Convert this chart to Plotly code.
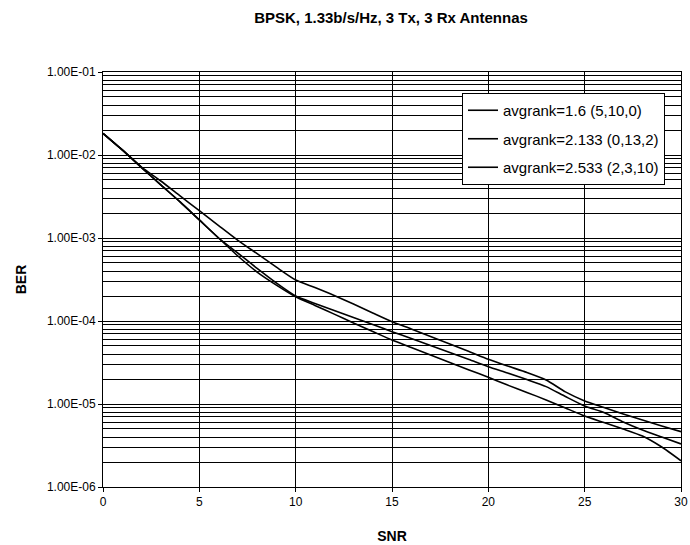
import plotly.graph_objects as go

snr = list(range(0, 31))

ber_16 = [1.82e-2, 1.15e-2, 7.16e-3, 4.86e-3, 3.21e-3, 2.13e-3, 1.41e-3, 9.37e-4, 6.47e-4, 4.45e-4,
          3.12e-4, 2.53e-4, 2.03e-4, 1.60e-4, 1.25e-4, 9.81e-5, 8.02e-5, 6.51e-5, 5.28e-5, 4.29e-5,
          3.46e-5, 2.87e-5, 2.40e-5, 1.95e-5, 1.40e-5, 1.09e-5, 9.08e-6, 7.58e-6, 6.41e-6, 5.43e-6,
          4.64e-6]

ber_2133 = [1.82e-2, 1.15e-2, 7.06e-3, 4.36e-3, 2.72e-3, 1.65e-3, 1.00e-3, 6.59e-4, 4.30e-4, 2.87e-4,
            2.00e-4, 1.63e-4, 1.34e-4, 1.10e-4, 9.08e-5, 7.43e-5, 6.15e-5, 5.07e-5, 4.17e-5, 3.43e-5,
            2.81e-5, 2.36e-5, 1.97e-5, 1.62e-5, 1.23e-5, 9.46e-6, 7.90e-6, 6.07e-6, 4.86e-6, 4.00e-6,
            3.30e-6]

ber_2533 = [1.82e-2, 1.15e-2, 7.06e-3, 4.36e-3, 2.72e-3, 1.65e-3, 1.00e-3, 6.07e-4, 3.89e-4, 2.71e-4,
            1.96e-4, 1.54e-4, 1.21e-4, 9.46e-5, 7.47e-5, 5.90e-5, 4.80e-5, 3.89e-5, 3.16e-5, 2.57e-5,
            2.10e-5, 1.69e-5, 1.38e-5, 1.12e-5, 8.95e-6, 7.16e-6, 5.98e-6, 5.00e-6, 4.11e-6, 3.03e-6,
            2.07e-6]

series_names = ["avgrank=1.6 (5,10,0)", "avgrank=2.133 (0,13,2)", "avgrank=2.533 (2,3,10)"]
series_values = [ber_16, ber_2133, ber_2533]

y_tick_vals = [1e-6, 1e-5, 1e-4, 1e-3, 1e-2, 1e-1]
y_tick_text = ["1.00E-06", "1.00E-05", "1.00E-04", "1.00E-03", "1.00E-02", "1.00E-01"]
x_tick_vals = [0, 5, 10, 15, 20, 25, 30]

minor_vals = [m * 10.0 ** d for d in range(-6, -1) for m in range(2, 10)]

FONT = "Liberation Sans, Arial, sans-serif"

fig = go.Figure()
for i, (name, vals) in enumerate(zip(series_names, series_values)):
    fig.add_trace(go.Scatter(x=snr, y=vals, mode="lines", name=name, legendgroup=f"g{i}",
                             line=dict(color="black", width=1.6, shape="spline", smoothing=0.6)))

fig.update_layout(
    width=690, height=545,
    margin=dict(l=103, r=9, t=72, b=58),
    paper_bgcolor="white", plot_bgcolor="white",
    font=dict(family=FONT, color="black", size=12),
    title=dict(text="<b>BPSK, 1.33b/s/Hz, 3 Tx, 3 Rx Antennas</b>", x=391 / 690,
               xanchor="center", xref="container", y=1 - 18 / 545, yanchor="middle",
               font=dict(family=FONT, size=15, color="black")),
    legend=dict(x=(665 - 103) / 578, y=(487 - 93) / 415, xanchor="right", yanchor="top",
                bgcolor="white", bordercolor="black", borderwidth=1, tracegroupgap=6,
                font=dict(family=FONT, size=15, color="black")),
    showlegend=True,
)

fig.update_xaxes(range=[0, 30], tickvals=x_tick_vals, ticks="outside", ticklen=4,
                 tickcolor="black", showgrid=True, gridcolor="black", gridwidth=1,
                 showline=True, linecolor="black", linewidth=1, mirror=True, zeroline=False,
                 tickfont=dict(size=12), automargin=False, ticklabeloverflow="allow",
                 title=dict(text="<b>SNR</b>", font=dict(size=14), standoff=22))
fig.update_yaxes(type="log", range=[-6, -1], tickmode="array", tickvals=y_tick_vals,
                 ticktext=y_tick_text, ticks="outside", ticklen=4, tickcolor="black",
                 showgrid=True, gridcolor="black", gridwidth=1,
                 minor=dict(tickmode="array", tickvals=minor_vals, showgrid=True,
                            gridcolor="black", gridwidth=1, ticks=""),
                 showline=True, linecolor="black", linewidth=1, mirror=True, zeroline=False,
                 tickfont=dict(size=12), automargin=False,
                 title=dict(text="<b>BER</b>", font=dict(size=14), standoff=16))

fig.write_html("out.html", config={"displayModeBar": False},
               post_script="document.body.style.margin='0';")
